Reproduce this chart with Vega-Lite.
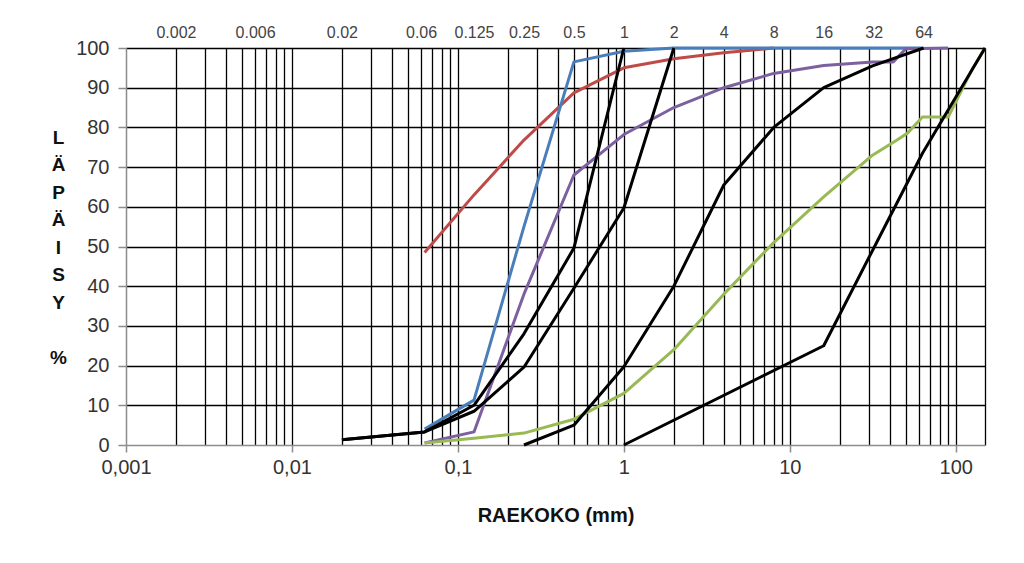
{
  "$schema": "https://vega.github.io/schema/vega-lite/v6.json",
  "width": 859,
  "height": 397,
  "autosize": {"type": "none"},
  "padding": {"left": 126, "top": 48, "right": 39, "bottom": 118},
  "background": "white",
  "config": {"view": {"stroke": null}, "font": "Liberation Sans"},
  "data": {
    "values": [
      {"c": "red", "x": 0.063, "y": 48.5},
      {"c": "red", "x": 0.125, "y": 63},
      {"c": "red", "x": 0.25, "y": 76.8},
      {"c": "red", "x": 0.5, "y": 88.7},
      {"c": "red", "x": 1, "y": 95},
      {"c": "red", "x": 2, "y": 97.3},
      {"c": "red", "x": 4, "y": 98.8},
      {"c": "red", "x": 8, "y": 100},
      {"c": "blue", "x": 0.063, "y": 4},
      {"c": "blue", "x": 0.125, "y": 11.3},
      {"c": "blue", "x": 0.25, "y": 55},
      {"c": "blue", "x": 0.5, "y": 96.5},
      {"c": "blue", "x": 1, "y": 99.2},
      {"c": "blue", "x": 2, "y": 100},
      {"c": "blue", "x": 4, "y": 100},
      {"c": "blue", "x": 8, "y": 100},
      {"c": "blue", "x": 16, "y": 100},
      {"c": "blue", "x": 31.5, "y": 100},
      {"c": "blue", "x": 63, "y": 100},
      {"c": "purple", "x": 0.063, "y": 0.5},
      {"c": "purple", "x": 0.125, "y": 3.3},
      {"c": "purple", "x": 0.25, "y": 38},
      {"c": "purple", "x": 0.5, "y": 68},
      {"c": "purple", "x": 1, "y": 78.2},
      {"c": "purple", "x": 2, "y": 85},
      {"c": "purple", "x": 4, "y": 90},
      {"c": "purple", "x": 8, "y": 93.6},
      {"c": "purple", "x": 16, "y": 95.6},
      {"c": "purple", "x": 31.5, "y": 96.5},
      {"c": "purple", "x": 42, "y": 96.5},
      {"c": "purple", "x": 50, "y": 99.8},
      {"c": "purple", "x": 90, "y": 100},
      {"c": "green", "x": 0.063, "y": 0.5},
      {"c": "green", "x": 0.125, "y": 1.7},
      {"c": "green", "x": 0.25, "y": 3},
      {"c": "green", "x": 0.5, "y": 6.5},
      {"c": "green", "x": 1, "y": 13},
      {"c": "green", "x": 2, "y": 24},
      {"c": "green", "x": 4, "y": 38},
      {"c": "green", "x": 8, "y": 51},
      {"c": "green", "x": 16, "y": 62.5},
      {"c": "green", "x": 31.5, "y": 73},
      {"c": "green", "x": 45, "y": 77},
      {"c": "green", "x": 51, "y": 78.5},
      {"c": "green", "x": 63, "y": 82.6},
      {"c": "green", "x": 90, "y": 82.6},
      {"c": "green", "x": 125, "y": 94.5},
      {"c": "green", "x": 150, "y": 100},
      {"c": "k1", "x": 0.02, "y": 1.3},
      {"c": "k1", "x": 0.063, "y": 3.3},
      {"c": "k1", "x": 0.125, "y": 10},
      {"c": "k1", "x": 0.25, "y": 28},
      {"c": "k1", "x": 0.5, "y": 49.6},
      {"c": "k1", "x": 1, "y": 100},
      {"c": "k2", "x": 0.02, "y": 1.3},
      {"c": "k2", "x": 0.063, "y": 3.3},
      {"c": "k2", "x": 0.125, "y": 8.5},
      {"c": "k2", "x": 0.25, "y": 19.6},
      {"c": "k2", "x": 0.5, "y": 39.5},
      {"c": "k2", "x": 1, "y": 59.7},
      {"c": "k2", "x": 2, "y": 100},
      {"c": "kB", "x": 0.25, "y": 0},
      {"c": "kB", "x": 0.5, "y": 5},
      {"c": "kB", "x": 1, "y": 19.7},
      {"c": "kB", "x": 2, "y": 40},
      {"c": "kB", "x": 4, "y": 65.5},
      {"c": "kB", "x": 8, "y": 80},
      {"c": "kB", "x": 16, "y": 90},
      {"c": "kB", "x": 31.5, "y": 95.5},
      {"c": "kB", "x": 64, "y": 100},
      {"c": "kC", "x": 1, "y": 0},
      {"c": "kC", "x": 16, "y": 25},
      {"c": "kC", "x": 31.5, "y": 49},
      {"c": "kC", "x": 63, "y": 73.5},
      {"c": "kC", "x": 150, "y": 100}
    ]
  },
  "layer": [
    {
      "mark": {"type": "line", "strokeWidth": 3, "strokeJoin": "round"},
      "encoding": {
        "x": {
          "field": "x",
          "type": "quantitative",
          "scale": {"type": "log", "domain": [0.001, 150], "nice": false},
          "axis": {
            "orient": "bottom",
            "values": [0.001, 0.002, 0.003, 0.004, 0.005, 0.006, 0.007, 0.008, 0.009, 0.01, 0.02, 0.03, 0.04, 0.05, 0.06, 0.07, 0.08, 0.09, 0.1, 0.2, 0.3, 0.4, 0.5, 0.6, 0.7, 0.8, 0.9, 1, 2, 3, 4, 5, 6, 7, 8, 9, 10, 20, 30, 40, 50, 60, 70, 80, 90, 100, 150],
            "grid": true,
            "gridColor": "#000",
            "gridWidth": 1.3,
            "gridOpacity": {"condition": {"test": "datum.value < 0.0015", "value": 0}, "value": 1},
            "domainColor": "#8c8c8c",
            "domainWidth": 1.5,
            "tickColor": "#8c8c8c",
            "tickWidth": 1.5,
            "tickSize": 7,
            "tickOpacity": {"condition": {"test": "abs(log(datum.value)/LN10 - round(log(datum.value)/LN10)) < 0.001", "value": 1}, "value": 0},
            "labelExpr": "abs(log(datum.value)/LN10 - round(log(datum.value)/LN10)) < 0.001 ? replace('' + datum.value, '.', ',') : ''",
            "labelFont": "Liberation Sans",
            "labelFontSize": 20,
            "labelColor": "#333",
            "labelPadding": 5,
            "labelOverlap": false,
            "labelFlush": false,
            "labelBound": false,
            "title": "RAEKOKO (mm)",
            "titleFont": "Liberation Sans",
            "titleFontSize": 20,
            "titleFontWeight": "bold",
            "titleColor": "#111",
            "titleBaseline": "top",
            "titleY": 60
          }
        },
        "y": {
          "field": "y",
          "type": "quantitative",
          "scale": {"domain": [0, 100], "nice": false},
          "axis": {
            "values": [0, 10, 20, 30, 40, 50, 60, 70, 80, 90, 100],
            "grid": true,
            "gridColor": "#000",
            "gridWidth": 1.3,
            "gridOpacity": {"condition": {"test": "datum.value < 1", "value": 0}, "value": 1},
            "domainColor": "#8c8c8c",
            "domainWidth": 1.5,
            "tickColor": "#8c8c8c",
            "tickWidth": 1.5,
            "tickSize": 8,
            "labelFont": "Liberation Sans",
            "labelFontSize": 20,
            "labelColor": "#333",
            "labelPadding": 9,
            "title": ["L", "Ä", "P", "Ä", "I", "S", "Y", "\u2800", "%"],
            "titleFont": "Liberation Sans",
            "titleFontSize": 19,
            "titleFontWeight": "bold",
            "titleColor": "#111",
            "titleAngle": 0,
            "titleAlign": "center",
            "titleBaseline": "top",
            "titleLineHeight": 27.5,
            "titleX": -68,
            "titleY": 80
          }
        },
        "color": {
          "field": "c",
          "type": "nominal",
          "scale": {
            "domain": ["red", "blue", "purple", "green", "k1", "k2", "kB", "kC"],
            "range": ["#BE4B48", "#4A7EBB", "#7D60A0", "#98B954", "#000000", "#000000", "#000000", "#000000"]
          },
          "legend": null
        }
      }
    },
    {
      "mark": {"type": "point", "opacity": 0},
      "encoding": {
        "x": {
          "field": "x",
          "type": "quantitative",
          "axis": {
            "orient": "top",
            "values": [0.002, 0.006, 0.02, 0.06, 0.125, 0.25, 0.5, 1, 2, 4, 8, 16, 32, 64],
            "labelExpr": "'' + datum.value",
            "grid": false,
            "ticks": false,
            "domain": false,
            "labelFont": "Liberation Sans",
            "labelFontSize": 16,
            "labelColor": "#444",
            "labelPadding": 8,
            "labelOverlap": false,
            "labelFlush": false,
            "title": null
          }
        }
      }
    }
  ],
  "resolve": {"axis": {"x": "independent"}}
}
